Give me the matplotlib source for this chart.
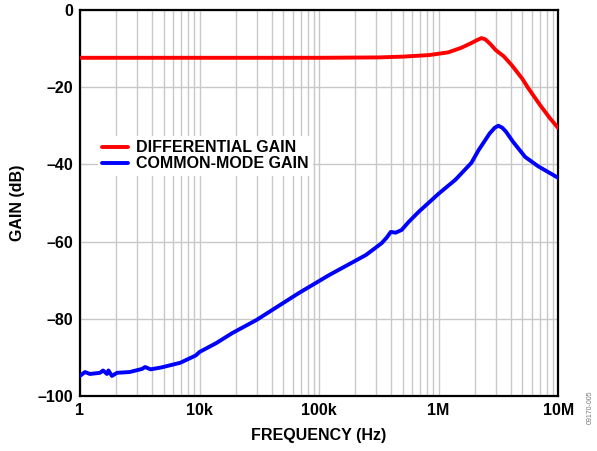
import numpy as np
import matplotlib.pyplot as plt
from matplotlib.ticker import LogLocator, NullFormatter

plt.rcParams['font.family'] = ['Liberation Sans', 'DejaVu Sans']

# differential gain (Hz, dB)
diff_freq = [1e3, 1e4, 1e5, 3.16e5, 5e5, 8.3e5, 1.2e6, 1.55e6, 1.9e6, 2.1e6,
             2.28e6, 2.45e6, 2.7e6, 3e6, 3.5e6, 4.06e6, 5e6, 5.6e6, 7e6,
             8.5e6, 1e7]
diff_gain = [-12.4, -12.4, -12.4, -12.3, -12.1, -11.7, -11.0, -9.8, -8.5,
             -7.8, -7.3, -7.6, -8.8, -10.4, -12.0, -14.2, -17.8, -20.2,
             -24.5, -28.0, -30.6]

# common-mode gain (Hz, dB)
cm_freq = [980, 1100, 1210, 1470, 1560, 1680, 1730, 1850, 2040, 2600, 3300,
           3500, 3900, 4800, 6900, 9300, 1.0e4, 1.38e4, 1.88e4, 3.0e4, 6.8e4,
           1.21e5, 2.46e5, 3.34e5, 3.67e5, 3.98e5, 4.37e5, 4.9e5, 5.62e5,
           6.81e5, 1e6, 1.38e6, 1.88e6, 2.16e6, 2.67e6, 2.95e6, 3.16e6,
           3.4e6, 3.65e6, 4.2e6, 5.3e6, 6.8e6, 1e7]
cm_gain = [-95.0, -93.8, -94.3, -94.0, -93.4, -94.3, -93.4, -94.8, -94.0,
           -93.8, -93.0, -92.5, -93.1, -92.6, -91.4, -89.5, -88.6, -86.3,
           -83.7, -80.3, -73.3, -68.7, -63.5, -60.4, -59.0, -57.5, -57.7,
           -57.0, -54.9, -52.3, -47.6, -44.0, -39.6, -36.3, -32.0, -30.5,
           -30.0, -30.5, -31.5, -34.2, -38.1, -40.5, -43.5]

x_ticks = [1e3, 1e4, 1e5, 1e6, 1e7]
x_labels = ['1', '10k', '100k', '1M', '10M']
y_ticks = [-100, -80, -60, -40, -20, 0]
y_labels = ['\u2013100', '\u201380', '\u201360', '\u201340', '\u201320', '0']

fig = plt.figure(figsize=(5.97, 4.51), dpi=100)
ax = fig.add_axes([0.134, 0.122, 0.801, 0.856])

ax.plot(diff_freq, diff_gain, color='#ff0000', lw=2.8, label='DIFFERENTIAL GAIN',
        solid_capstyle='round', solid_joinstyle='round', zorder=3)
ax.plot(cm_freq, cm_gain, color='#0000ff', lw=2.8, label='COMMON-MODE GAIN',
        solid_capstyle='round', solid_joinstyle='round', zorder=3)

ax.set_xscale('log')
ax.set_xlim(1e3, 1e7)
ax.set_ylim(-100, 0)
ax.set_xticks(x_ticks)
ax.set_xticklabels(x_labels)
ax.xaxis.set_minor_locator(LogLocator(base=10, subs=np.arange(2, 10)))
ax.xaxis.set_minor_formatter(NullFormatter())
ax.set_yticks(y_ticks)
ax.set_yticklabels(y_labels)

ax.grid(True, which='both', axis='x', color='#c8c8c8', lw=1.0, zorder=0)
ax.grid(True, which='major', axis='y', color='#c8c8c8', lw=1.0, zorder=0)
ax.tick_params(which='both', length=0, labelsize=11.5, pad=5)
for lab in ax.get_xticklabels() + ax.get_yticklabels():
    lab.set_fontweight('bold')

for s in ax.spines.values():
    s.set_linewidth(1.6)
    s.set_color('black')

ax.set_xlabel('FREQUENCY (Hz)', fontsize=11.5, fontweight='bold', labelpad=7)
ax.set_ylabel('GAIN (dB)', fontsize=11.5, fontweight='bold', labelpad=9)

leg = ax.legend(loc='upper left', bbox_to_anchor=(0.02, 0.695), frameon=True,
                fancybox=False, edgecolor='none', facecolor='white', framealpha=1,
                prop={'weight': 'bold', 'size': 11.5}, handlelength=1.6,
                handletextpad=0.5, borderpad=0.3, labelspacing=0.05)
leg.set_zorder(4)

fig.text(0.988, 0.06, '09170-005', rotation=90, fontsize=5, color='#777777',
         ha='center', va='bottom')

fig.savefig('out.png', dpi=100)
